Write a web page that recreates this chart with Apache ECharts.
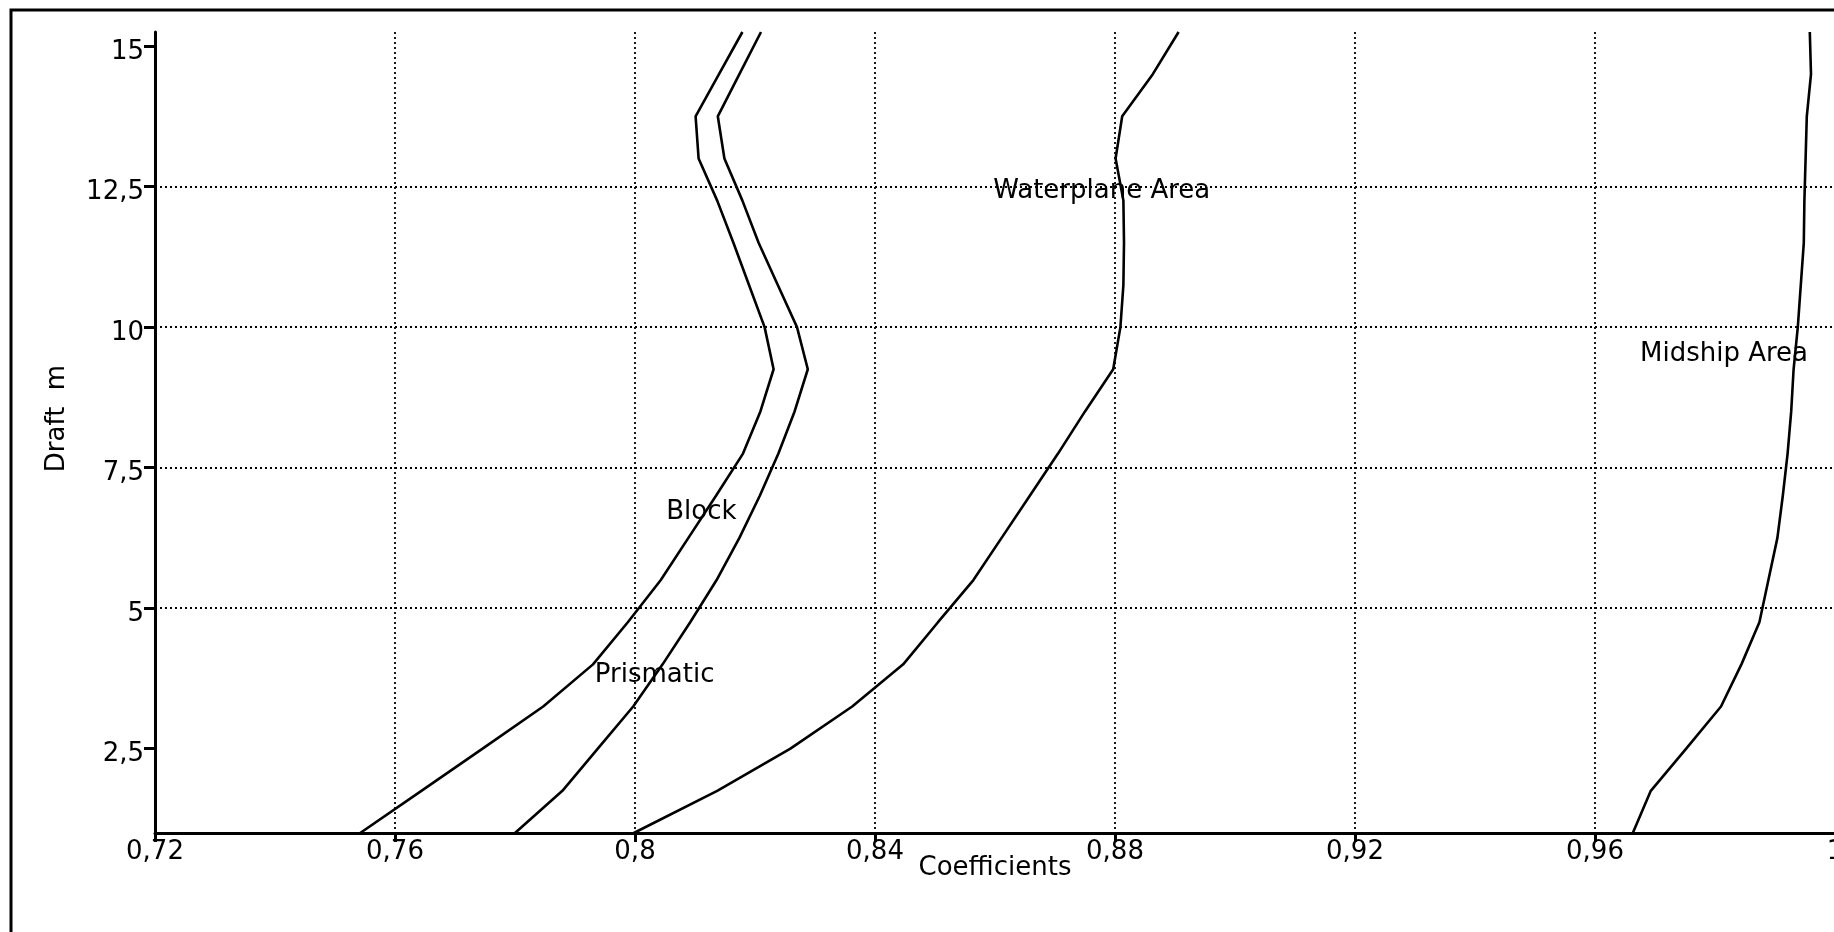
<!DOCTYPE html>
<html>
<head>
<meta charset="utf-8">
<title>Coefficients of form</title>
<script src="https://cdn.jsdelivr.net/npm/echarts@6/dist/echarts.min.js"></script>
<style>
    html, body { margin: 0; padding: 0; background: #fff; }
    #chart { width: 1834px; height: 932px; }
</style>
</head>
<body>
<div id="chart"></div>
<script>
// 吃水 (m)，自下而上
var aDraft = [1.0, 1.75, 2.5, 3.25, 4.0, 4.75, 5.5, 6.25, 7.0, 7.75,
    8.5, 9.25, 10.0, 10.75, 11.5, 12.25, 13.0, 13.75, 14.5, 15.25];

// 各系数曲线
var aBlock = [0.7542, 0.7644, 0.7746, 0.7847, 0.7930, 0.7988, 0.8043, 0.8089, 0.8135, 0.8180,
    0.8209, 0.8231, 0.8216, 0.8190, 0.8164, 0.8137, 0.8106, 0.8101, 0.8140, 0.8179];
var aPrismatic = [0.7800, 0.7879, 0.7938, 0.7997, 0.8046, 0.8092, 0.8136, 0.8174, 0.8208, 0.8239,
    0.8266, 0.8288, 0.8270, 0.8238, 0.8206, 0.8179, 0.8149, 0.8138, 0.8174, 0.8210];
var aWaterplane = [0.7998, 0.8137, 0.8259, 0.8362, 0.8447, 0.8505, 0.8564, 0.8611, 0.8658, 0.8705,
    0.8750, 0.8797, 0.8809, 0.8814, 0.8815, 0.8814, 0.8801, 0.8812, 0.8863, 0.8906];
var aMidship = [0.9663, 0.9693, 0.9752, 0.9810, 0.9844, 0.9874, 0.9889, 0.9904, 0.9913, 0.9921,
    0.9927, 0.9931, 0.9938, 0.9943, 0.9948, 0.9949, 0.9951, 0.9953, 0.9960, 0.9958];

// 刻度
var aYTick = [2.5, 5, 7.5, 10, 12.5, 15];

// 曲线上的文字
var acNote = ['Block', 'Prismatic', 'Waterplane Area', 'Midship Area'];
var anNoteX = [0.8052, 0.7933, 0.8597, 0.9675];
var anNoteY = [6.70, 3.81, 12.42, 9.52];

var cFont = 'DejaVu Sans';
var nFontSize = 26;

// 0.72 -> 0,72
function fmtComma(nVal) {
    return String(+(+nVal).toFixed(4)).replace('.', ',');
}

function getLineSer(cName, aX) {
    var aoData = [];
    for (var i = 0; i < aDraft.length; i++) {
        aoData.push([aX[i], aDraft[i]]);
    }
    return {
        name: cName,
        type: 'line',
        data: aoData,
        symbol: 'none',
        silent: true,
        z: 3,
        lineStyle: { color: '#000', width: 2.6 }
    };
}

function getNoteSer() {
    var aoData = [];
    for (var i = 0; i < acNote.length; i++) {
        aoData.push({ name: acNote[i], value: [anNoteX[i], anNoteY[i]] });
    }
    return {
        type: 'scatter',
        data: aoData,
        symbolSize: 0,
        silent: true,
        z: 5,
        itemStyle: { color: '#000', opacity: 1 },
        label: {
            show: true,
            position: 'right',
            distance: 0,
            formatter: '{b}',
            color: '#000',
            opacity: 1,
            textBorderWidth: 0,
            fontFamily: cFont,
            fontSize: nFontSize
        }
    };
}

var oTextStyle = { color: '#000', fontFamily: cFont, fontSize: nFontSize };
var oAxisLine = { color: '#000', width: 3 };
var oGridLine = { color: '#000', width: 1.8, type: [2, 3] };

var oChart = echarts.init(document.getElementById('chart'));

var oOpt = {
    animation: false,
    backgroundColor: '#fff',
    textStyle: { fontFamily: cFont, color: '#000' },
    grid: {
        left: 155,
        right: -1,
        top: 32,
        bottom: 99,
        containLabel: false,
        outerBoundsMode: 'none'
    },
    // 外框
    graphic: [{
        type: 'rect',
        silent: true,
        z: -1,
        shape: { x: 11, y: 10, width: 3000, height: 3000 },
        style: { fill: 'none', stroke: '#000', lineWidth: 3 }
    }],
    xAxis: {
        type: 'value',
        min: 0.72,
        max: 1.0,
        interval: 0.04,
        name: 'Coefficients',
        nameLocation: 'middle',
        nameGap: 22,
        nameMoveOverlap: false,
        nameTextStyle: oTextStyle,
        axisLine: { show: true, onZero: false, lineStyle: oAxisLine },
        axisTick: { show: true, length: 9, lineStyle: oAxisLine },
        axisLabel: {
            color: '#000', fontFamily: cFont, fontSize: nFontSize,
            margin: 6,
            formatter: fmtComma
        },
        splitLine: { show: true, showMinLine: false, lineStyle: oGridLine }
    },
    yAxis: {
        type: 'value',
        min: 1.0,
        max: 15.25,
        minInterval: 2.5,
        maxInterval: 2.5,
        name: 'Draft  m',
        nameLocation: 'middle',
        nameGap: 85,
        nameTextStyle: {
            color: '#000', fontFamily: cFont, fontSize: nFontSize,
            padding: [0, 0, 0, 28]
        },
        axisLine: { show: true, onZero: false, lineStyle: oAxisLine },
        axisTick: { show: true, length: 11, customValues: aYTick, lineStyle: oAxisLine },
        axisLabel: {
            color: '#000', fontFamily: cFont, fontSize: nFontSize,
            customValues: aYTick,
            margin: 11,
            verticalAlign: 'top',
            lineHeight: 12,
            formatter: fmtComma
        },
        splitLine: { show: true, showMinLine: false, showMaxLine: false, lineStyle: oGridLine }
    },
    series: [
        getLineSer('Block', aBlock),
        getLineSer('Prismatic', aPrismatic),
        getLineSer('Waterplane Area', aWaterplane),
        getLineSer('Midship Area', aMidship),
        getNoteSer()
    ]
};

oChart.setOption(oOpt);
</script>
</body>
</html>
